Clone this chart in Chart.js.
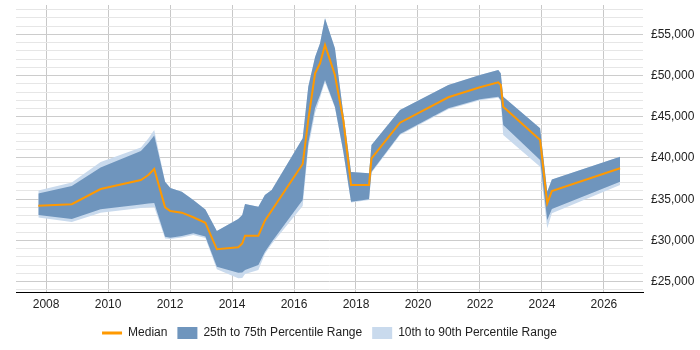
<!DOCTYPE html>
<html>
<head>
<meta charset="utf-8">
<script src="https://cdn.jsdelivr.net/npm/chart.js@4"></script>
<style>
html,body{margin:0;padding:0;background:#fff;}
#wrap{width:700px;height:350px;}
</style>
</head>
<body>
<div id="wrap"><canvas id="c" width="700" height="350"></canvas></div>
<script>
const years = [2007.75, 2008.83, 2009.76, 2011.06, 2011.30, 2011.49, 2011.84, 2012.01, 2012.38, 2012.75, 2013.14, 2013.51, 2014.20, 2014.33, 2014.42, 2014.85, 2015.06, 2015.28, 2016.28, 2016.46, 2016.68, 2016.84, 2017.00, 2017.32, 2017.59, 2017.84, 2018.42, 2018.50, 2019.42, 2020.98, 2022.00, 2022.59, 2022.67, 2022.75, 2023.94, 2024.17, 2024.32, 2026.52];
const median = [34200, 34400, 36240, 37330, 37940, 38670, 34020, 33570, 33370, 32810, 32150, 28930, 29170, 29650, 30580, 30580, 32400, 33630, 39270, 44610, 50270, 51480, 53700, 50060, 44610, 36730, 36730, 39960, 44280, 47360, 48570, 49180, 48850, 46220, 42180, 34510, 36000, 38750];
const p75 = [35700, 36600, 38850, 40850, 41820, 42730, 37130, 36360, 35910, 34910, 33750, 31150, 32600, 33090, 34420, 34090, 35510, 36120, 42390, 48650, 52250, 53910, 56940, 53300, 45420, 38300, 38150, 41580, 45820, 48850, 50060, 50670, 50270, 47430, 43600, 35910, 37390, 40160];
const p25 = [33090, 32600, 33780, 34360, 34480, 34540, 30460, 30340, 30540, 30870, 30480, 26820, 26090, 26120, 26420, 27020, 28600, 29810, 34900, 41780, 46060, 47640, 49460, 46220, 40790, 34700, 34990, 38340, 42910, 46030, 47120, 47430, 47030, 44000, 39760, 32480, 33820, 37130];
const p90 = [36060, 37030, 39510, 41270, 42360, 43390, 37130, 36360, 35910, 34910, 33750, 31150, 32600, 33090, 34420, 34090, 35510, 36120, 42390, 48650, 52250, 53910, 56940, 53300, 45420, 38300, 38150, 41580, 45820, 48850, 50060, 50670, 50270, 47430, 43600, 35910, 37390, 40160];
const p10 = [32790, 32240, 33370, 33940, 34000, 34060, 30240, 30180, 30360, 30660, 30300, 26500, 25410, 25450, 25930, 26420, 28360, 29570, 34180, 41210, 45460, 47280, 49220, 46100, 40700, 34600, 34900, 38200, 42800, 45900, 47000, 47300, 46900, 42790, 38950, 31480, 33290, 36730];
const xTickYears = [2008, 2010, 2012, 2014, 2016, 2018, 2020, 2022, 2024, 2026];
const yTickValues = [24000,25000,26000,27000,28000,29000,30000,31000,32000,33000,34000,35000,36000,37000,38000,39000,40000,41000,42000,43000,44000,45000,46000,47000,48000,49000,50000,51000,52000,53000,54000,55000,56000,57000,58000];

const ORANGE = '#ff9900';
const BLUE = '#6f95bd';
const LIGHT = '#c9daed';
const FONT = "'Liberation Sans', Arial, sans-serif";
const toXY = arr => arr.map((v, i) => ({x: years[i], y: v}));

const legendShift = {
  id: 'legendShift',
  afterLayout(chart) {
    const lg = chart.legend;
    if (!lg) return;
    const ca = chart.chartArea;
    const cur = (lg.left + lg.right) / 2;
    const want = (ca.left + ca.right) / 2;
    lg.left += want - cur;
    lg.right += want - cur;
  }
};

new Chart(document.getElementById('c'), {
  type: 'line',
  data: {
    datasets: [
      {label: 'Median', data: toXY(median), borderColor: ORANGE, backgroundColor: ORANGE, borderWidth: 2, pointRadius: 0, fill: false, tension: 0},
      {label: '25th to 75th Percentile Range', data: toXY(p75), borderWidth: 0, borderColor: BLUE, backgroundColor: BLUE, pointRadius: 0, fill: '+1', tension: 0},
      {label: 'p25', data: toXY(p25), borderWidth: 0, borderColor: BLUE, pointRadius: 0, fill: false, tension: 0},
      {label: '10th to 90th Percentile Range', data: toXY(p90), borderWidth: 0, borderColor: LIGHT, backgroundColor: LIGHT, pointRadius: 0, fill: '+1', tension: 0},
      {label: 'p10', data: toXY(p10), borderWidth: 0, borderColor: LIGHT, pointRadius: 0, fill: false, tension: 0}
    ]
  },
  plugins: [legendShift],
  options: {
    responsive: false,
    animation: false,
    events: [],
    layout: {padding: {left: 16, top: 5, right: 0, bottom: 1}},
    scales: {
      x: {
        type: 'linear',
        min: 2007.03,
        max: 2027.26,
        afterBuildTicks: axis => { axis.ticks = xTickYears.map(v => ({value: v})); },
        afterFit: axis => { axis.height = 25; axis.paddingLeft = 0; axis.paddingRight = 0; },
        grid: {color: '#c8c8c8', drawTicks: false, lineWidth: 1},
        border: {display: true, color: '#000', width: 1},
        ticks: {autoSkip: false, maxRotation: 0, padding: 5, color: '#222', font: {size: 12, family: FONT}, callback: v => String(v)}
      },
      y: {
        position: 'right',
        min: 23750,
        max: 58550,
        afterBuildTicks: axis => { axis.ticks = yTickValues.map(v => ({value: v})); },
        afterFit: axis => { axis.width = 57; axis.paddingTop = 0; axis.paddingBottom = 0; },
        grid: {color: c => (c.tick && c.tick.value % 5000 === 0) ? '#cccccc' : '#e6e6e6', drawTicks: false, lineWidth: 1},
        border: {display: false},
        ticks: {autoSkip: false, padding: 8, color: '#222', font: {size: 12, family: FONT},
          callback: v => (v % 5000 === 0) ? '£' + v.toLocaleString('en-GB') : ''}
      }
    },
    plugins: {
      tooltip: {enabled: false},
      legend: {
        position: 'bottom',
        labels: {
          usePointStyle: true,
          pointStyleWidth: 20,
          boxHeight: 12,
          padding: 10,
          color: '#222',
          font: {size: 12, family: FONT},
          generateLabels: () => [
            {text: 'Median', pointStyle: 'line', strokeStyle: ORANGE, fillStyle: ORANGE, lineWidth: 3, datasetIndex: 0, fontColor: '#222'},
            {text: '25th to 75th Percentile Range', pointStyle: 'rect', strokeStyle: BLUE, fillStyle: BLUE, lineWidth: 0, datasetIndex: 1, fontColor: '#222'},
            {text: '10th to 90th Percentile Range', pointStyle: 'rect', strokeStyle: LIGHT, fillStyle: LIGHT, lineWidth: 0, datasetIndex: 3, fontColor: '#222'}
          ]
        }
      }
    }
  }
});
</script>
</body>
</html>
